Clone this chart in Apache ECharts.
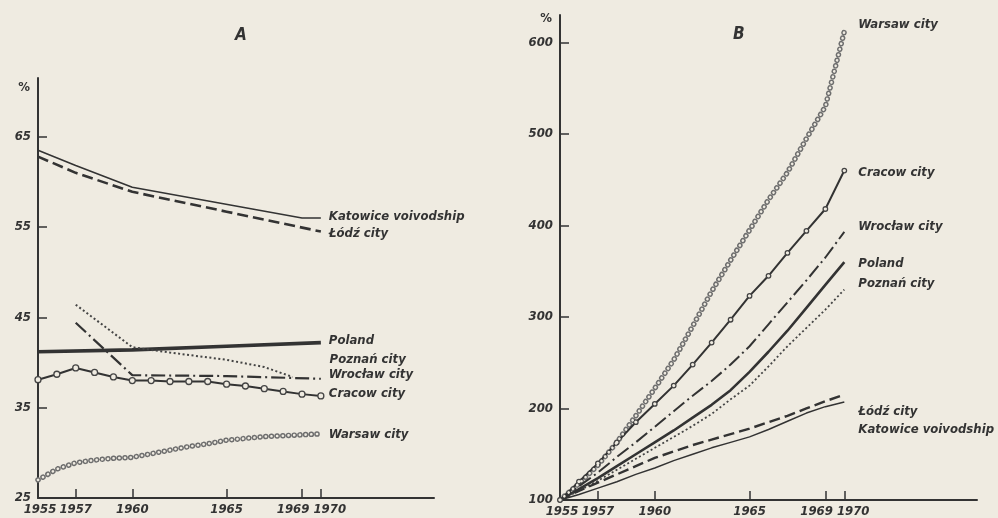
<!DOCTYPE html>
<html>
<head>
<meta charset="utf-8">
<script src="https://cdn.jsdelivr.net/npm/echarts@6/dist/echarts.min.js"></script>
<style>
  html, body { margin: 0; padding: 0; background: #efebe1; }
  #chart { width: 998px; height: 518px; }
</style>
</head>
<body>
<div id="chart"></div>
<script>
// ---- data ----
const years = [1955, 1956, 1957, 1958, 1959, 1960, 1961, 1962, 1963, 1964, 1965, 1966, 1967, 1968, 1969, 1970];
const tickYears = [1957, 1960, 1965, 1969, 1970];
// 1969 and 1970 sit so close that they are printed as one pair under their midpoint
const labelYears = [1955, 1957, 1960, 1965, 1969.5];
const yLabelsA = [25, 35, 45, 55, 65];
const yLabelsB = [100, 200, 300, 400, 500, 600];

// panel A: share in % (sparse series carry their own years)
const katowiceAYears = [1955, 1957, 1960, 1969, 1970];
const katowiceA = [63.5, 61.8, 59.4, 56.0, 56.0];
const lodzAYears = [1955, 1957, 1960, 1965, 1970];
const lodzA = [62.8, 61.0, 58.9, 56.7, 54.5];
const polandAYears = [1955, 1960, 1965, 1970];
const polandA = [41.2, 41.4, 41.8, 42.2];
const poznanAYears = [1957, 1960, 1962, 1965, 1967, 1968.5];
const poznanA = [46.4, 41.7, 41.1, 40.3, 39.5, 38.4];
const wroclawAYears = [1957, 1960, 1965, 1970];
const wroclawA = [44.4, 38.6, 38.5, 38.2];
const cracowA = [38.1, 38.7, 39.4, 38.9, 38.4, 38.0, 38.0, 37.9, 37.9, 37.9, 37.6, 37.4, 37.1, 36.8, 36.5, 36.3];
const warsawA = [27.0, 28.2, 28.9, 29.2, 29.4, 29.5, 29.9, 30.3, 30.7, 31.0, 31.4, 31.6, 31.8, 31.9, 32.0, 32.1];

// panel B: index, 1955 = 100
const warsawB = [100, 118, 138, 163, 192, 222, 253, 290, 328, 362, 395, 428, 458, 495, 530, 612];
const cracowB = [100, 120, 140, 163, 185, 205, 225, 248, 272, 297, 323, 345, 370, 394, 418, 460];
const wroclawB = [100, 115, 130, 147, 163, 180, 197, 214, 230, 248, 268, 292, 316, 340, 365, 393];
const polandB = [100, 112, 124, 137, 150, 163, 176, 190, 204, 220, 240, 262, 285, 310, 335, 360];
const poznanB = [100, 110, 121, 133, 145, 157, 169, 181, 194, 210, 225, 246, 268, 288, 308, 330];
const lodzB = [100, 110, 119, 128, 137, 146, 153, 160, 166, 172, 178, 185, 192, 200, 208, 215];
const katowiceB = [100, 106, 113, 120, 128, 135, 143, 150, 157, 163, 169, 177, 186, 195, 202, 207];

const bg = '#efebe1';
const ink = '#333';
const font = "'DejaVu Sans Condensed', 'Liberation Sans Narrow', sans-serif";
const narrow = "'Liberation Sans Narrow', 'DejaVu Sans Condensed', sans-serif";

function pairs(xs, vs) {
  return vs.map(function (v, i) { return [xs[i], v]; });
}

function lbl(dx, dy, dist) {
  return {
    show: true,
    formatter: '{a}',
    distance: dist,
    offset: [dx, dy],
    color: ink,
    fontFamily: font,
    fontStyle: 'italic',
    fontWeight: 'bold',
    fontSize: 13
  };
}

function line(name, idx, data, style, label, extra) {
  return Object.assign({
    name: name,
    type: 'line',
    xAxisIndex: idx,
    yAxisIndex: idx,
    data: data,
    symbol: 'none',
    silent: true,
    lineStyle: Object.assign({ color: ink, width: 1.8 }, style),
    endLabel: label
  }, extra || {});
}

// chain of small open rings (Warsaw): dotted grey line with a thinner paper-coloured dotted line on top
function rings(name, idx, data, label) {
  return [
    line(name, idx, data, { color: '#6e6e6e', width: 5.5, type: [0.1, 5.6], cap: 'round' }, label, { z: 3 }),
    line(name + ' ', idx, data, { color: bg, width: 2.6, type: [0.1, 5.6], cap: 'round' }, { show: false }, { z: 4 })
  ];
}

function circled(name, idx, data, label, size) {
  return line(name, idx, data, { width: 2 }, label, {
    symbol: 'circle',
    symbolSize: size,
    showSymbol: true,
    itemStyle: { color: bg, borderColor: '#444', borderWidth: 1.3 }
  });
}

const axisText = {
  color: ink,
  fontFamily: narrow,
  fontStyle: 'italic',
  fontWeight: 'bold',
  fontSize: 13
};

function xAxis(idx, max) {
  return {
    type: 'value',
    gridIndex: idx,
    min: 1955,
    max: max,
    axisLine: { lineStyle: { color: ink, width: 2 } },
    axisTick: { inside: true, length: 9, customValues: tickYears, lineStyle: { color: ink, width: 1.5 } },
    axisLabel: Object.assign({
      customValues: labelYears,
      margin: 5,
      formatter: function (v) {
        if (v === 1969.5) return '1969 1970';
        if (v === 1955) return '{s|' + v + '}';
        return String(v);
      },
      rich: { s: { padding: [0, 0, 0, 4] } }
    }, axisText),
    splitLine: { show: false }
  };
}

function yAxis(idx, min, max, labels, gap) {
  return {
    type: 'value',
    gridIndex: idx,
    min: min,
    max: max,
    name: '%',
    nameLocation: 'end',
    nameGap: gap,
    nameTextStyle: Object.assign({}, axisText, { fontFamily: font, fontStyle: 'normal', fontSize: 13, align: 'right', padding: [0, 8, 0, 0] }),
    axisLine: { lineStyle: { color: ink, width: 2 } },
    axisTick: { inside: true, length: 9, customValues: labels.slice(1), lineStyle: { color: ink, width: 1.5 } },
    axisLabel: Object.assign({ customValues: labels, margin: 7, formatter: function (v) { return String(v); } }, axisText),
    splitLine: { show: false }
  };
}

const chart = echarts.init(document.getElementById('chart'));
const option = {
  backgroundColor: bg,
  animation: false,
  title: [
    { text: 'A', left: 230, top: 22, textStyle: { color: ink, fontFamily: font, fontStyle: 'italic', fontWeight: 'bold', fontSize: 17 } },
    { text: 'B', left: 728, top: 21, textStyle: { color: ink, fontFamily: font, fontStyle: 'italic', fontWeight: 'bold', fontSize: 17 } }
  ],
  grid: [
    { left: 38, top: 78, width: 396, height: 420 },
    { left: 560, top: 15, width: 417, height: 485 }
  ],
  xAxis: [xAxis(0, 1976), xAxis(1, 1977)],
  yAxis: [yAxis(0, 25, 71.5, yLabelsA, -16), yAxis(1, 100, 630, yLabelsB, -10)],
  series: [
    line('Katowice voivodship', 0, pairs(katowiceAYears, katowiceA), { width: 1.6 }, lbl(0, -1, 8)),
    line('Łódź city', 0, pairs(lodzAYears, lodzA), { width: 2.6, type: [11, 5] }, lbl(0, 2, 8)),
    line('Poland', 0, pairs(polandAYears, polandA), { width: 3.6 }, lbl(0, -2, 8)),
    line('Poznań city', 0, pairs(poznanAYears, poznanA), { width: 2, type: [2, 2.5], color: '#444' }, lbl(29, -17, 8)),
    line('Wrocław city', 0, pairs(wroclawAYears, wroclawA), { width: 2.2, type: [14, 4, 2, 4] }, lbl(0, -4, 8)),
    circled('Cracow city', 0, pairs(years, cracowA), lbl(0, -2, 8), 6)
  ].concat(
    rings('Warsaw city', 0, pairs(years, warsawA), lbl(0, 1, 8)),
    rings('Warsaw city', 1, pairs(years, warsawB), lbl(0, -7, 14)),
    [
      circled('Cracow city', 1, pairs(years, cracowB), lbl(0, 2, 14), 4.5),
      line('Wrocław city', 1, pairs(years, wroclawB), { width: 2, type: [14, 4, 2, 4] }, lbl(0, -5, 14)),
      line('Poland', 1, pairs(years, polandB), { width: 2.6 }, lbl(0, 2, 14)),
      line('Poznań city', 1, pairs(years, poznanB), { width: 1.8, type: [2, 2.5], color: '#444' }, lbl(0, -6, 14)),
      line('Łódź city', 1, pairs(years, lodzB), { width: 2.4, type: [11, 5] }, lbl(0, 17, 14)),
      line('Katowice voivodship', 1, pairs(years, katowiceB), { width: 1.5 }, lbl(0, 28, 14))
    ]
  )
};
chart.setOption(option);
</script>
</body>
</html>
